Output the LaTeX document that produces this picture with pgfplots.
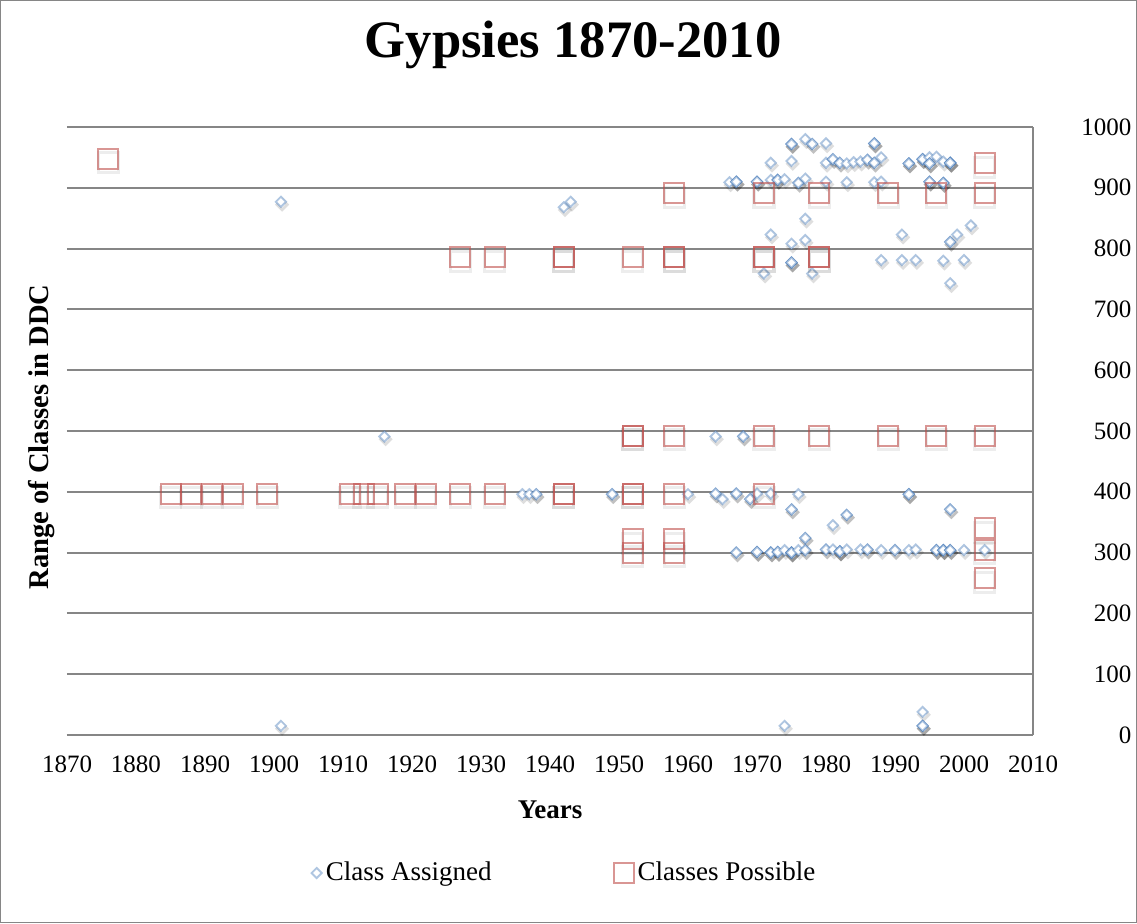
\documentclass[border=0pt]{standalone}
\usepackage{fontspec}
\setmainfont{Liberation Serif}
\usepackage{pgfplots}
\pgfplotsset{compat=1.18}
\usepackage{pgfplotstable}

\definecolor{blu}{RGB}{79,129,189}
\definecolor{rd}{RGB}{192,80,77}
\definecolor{gridc}{RGB}{134,134,134}

% Class Assigned (repeated rows = several titles at the same point)
\pgfplotstableread{
x y
1901 877
1901 15
1916 491
1942 868
1943 877
1936 396
1937 396
1938 396
1938 396
1949 396
1949 396
1960 396
1964 397
1964 397
1964 491
1965 388
1966 909
1967 910
1967 910
1967 910
1967 397
1967 397
1967 300
1967 300
1968 491
1968 491
1969 388
1969 388
1970 910
1970 910
1970 910
1970 397
1970 301
1970 301
1970 301
1971 759
1972 941
1972 913
1972 823
1972 397
1972 300
1972 300
1972 300
1973 913
1973 913
1973 913
1973 301
1973 301
1973 301
1974 914
1974 304
1974 15
1975 972
1975 972
1975 972
1975 944
1975 808
1975 777
1975 777
1975 777
1975 371
1975 371
1975 300
1975 300
1975 300
1975 300
1976 908
1976 908
1976 396
1976 304
1977 980
1977 915
1977 849
1977 814
1977 324
1977 324
1977 304
1977 304
1978 972
1978 972
1978 759
1980 973
1980 941
1980 910
1980 305
1980 305
1981 947
1981 947
1981 345
1981 305
1982 941
1982 941
1982 302
1982 302
1982 302
1982 302
1983 940
1983 909
1983 362
1983 362
1983 305
1984 942
1985 943
1985 305
1986 946
1986 946
1986 305
1986 305
1987 973
1987 973
1987 973
1987 941
1987 941
1987 909
1988 950
1988 910
1988 781
1988 304
1990 304
1990 304
1991 823
1991 781
1992 940
1992 940
1992 940
1992 396
1992 396
1992 396
1992 304
1993 781
1993 305
1994 947
1994 947
1994 947
1994 38
1994 15
1994 15
1994 15
1995 950
1995 940
1995 940
1995 940
1995 910
1995 910
1995 910
1996 951
1996 304
1996 304
1996 304
1997 943
1997 908
1997 908
1997 908
1997 780
1997 304
1997 304
1997 304
1997 304
1998 941
1998 941
1998 941
1998 941
1998 811
1998 811
1998 743
1998 371
1998 371
1998 304
1998 304
1998 304
1999 823
2000 781
2000 304
2001 838
2003 304
}\assigned

% Classes Possible
\pgfplotstableread{
x y
1876 948
1885 397
1888 397
1891 397
1894 397
1899 397
1911 397
1913 397
1915 397
1919 397
1922 397
1927 397
1927 786
1932 397
1932 786
1942 397
1942 397
1942 786
1942 786
1952 786
1952 492
1952 492
1952 397
1952 397
1952 322
1952 300
1958 891
1958 786
1958 786
1958 492
1958 397
1958 322
1958 300
1971 891
1971 786
1971 786
1971 492
1971 397
1979 891
1979 786
1979 786
1979 492
1989 891
1989 492
1996 891
1996 492
2003 940
2003 891
2003 492
2003 340
2003 305
2003 258
}\possible

\begin{document}
\begin{tikzpicture}
\begin{axis}[
  scale only axis, width=483pt, height=304pt,
  xmin=1870, xmax=2010, ymin=0, ymax=1000,
  xtick={1870,1880,...,2010}, ytick={0,100,...,1000},
  axis x line=bottom, axis y line=right,
  x axis line style={-, draw=gridc, line width=1pt},
  y axis line style={-, draw=gridc, line width=1pt},
  ymajorgrids, major grid style={draw=gridc, line width=1pt},
  major tick length=0pt,
  tick label style={font=\fontsize{12.5}{14}\selectfont},
  /pgf/number format/assume math mode=true,
  /pgf/number format/set thousands separator={},
  xticklabel style={yshift=-7pt},
  yticklabel style={anchor=east, xshift=52.7pt},
  title={Gypsies 1870-2010},
  title style={at={(axis description cs:0.524,1.115)}, anchor=center, font=\bfseries\fontsize{26.3}{30}\selectfont},
  xlabel={Years},
  xlabel style={at={(axis description cs:0.5,0)}, anchor=center, yshift=-37.5pt, font=\bfseries\fontsize{13.5}{15}\selectfont},
  ylabel={Range of Classes in DDC},
  ylabel style={at={(axis description cs:-0.026,0.49)}, anchor=center, font=\bfseries\fontsize{14.3}{16}\selectfont},
  legend columns=2,
  legend style={at={(axis description cs:0.516,-0.227)}, anchor=center, draw=none, fill=none,
    font=\fontsize{13.5}{15}\selectfont,
    /tikz/every even column/.append style={column sep=59pt}},
  clip=false,
]
% shadows
\addplot[only marks, forget plot, mark=square, mark size=1.8pt,
  mark options={xshift=0.6pt, yshift=-1.4pt, rotate=45, draw=black, draw opacity=0.13, line width=1.4pt, fill=none}] table {\assigned};
\addplot[only marks, mark=square*, mark size=1.8pt,
  mark options={rotate=45, draw=blu, draw opacity=0.45, fill=white, line width=0.95pt}] table {\assigned};
\addlegendentry{Class Assigned}
\addplot[only marks, forget plot, mark=square, mark size=5pt,
  mark options={yshift=-2pt, draw=black, draw opacity=0.07, line width=1.6pt}] table {\possible};
\addplot[only marks, mark=square, mark size=5pt,
  mark options={draw=rd, draw opacity=0.6, line width=1pt}] table {\possible};
\addlegendentry{Classes Possible}
\end{axis}
\draw[draw=gridc, line width=0.7pt] (-33.1pt,-93.6pt) rectangle (534.6pt,367.1pt);
\pgfresetboundingbox
\path[use as bounding box] (-33.5pt,-94pt) rectangle (535pt,367.5pt);
\end{tikzpicture}
\end{document}
